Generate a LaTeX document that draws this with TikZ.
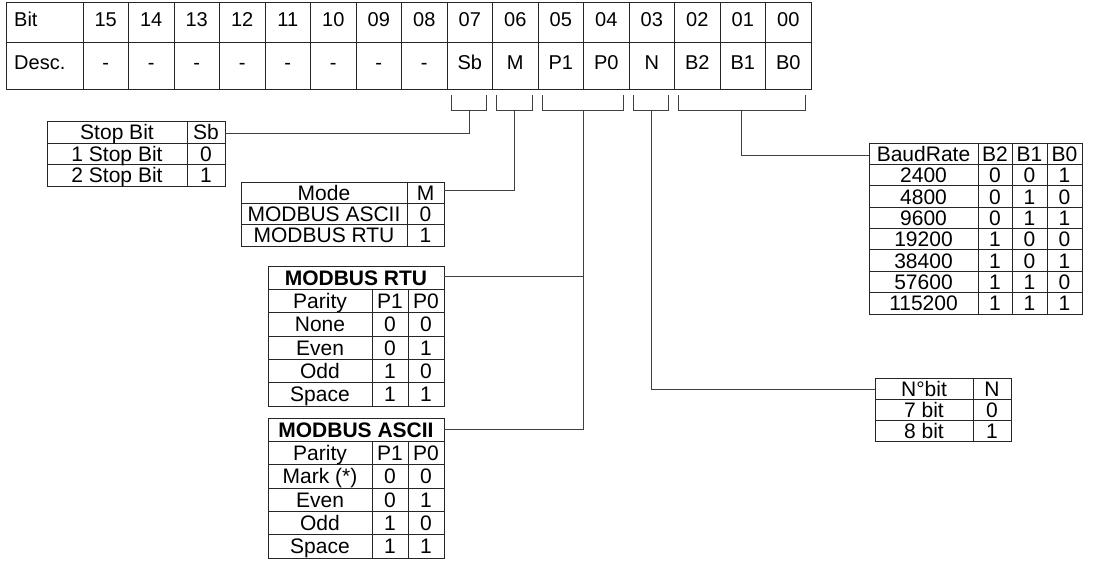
\documentclass[tikz,border=0pt]{standalone}
\usepackage{fontspec}
\setmainfont{Liberation Sans}
\usetikzlibrary{positioning,calc}
\tikzset{
  cell/.style={inner sep=0pt,text height=14pt,text depth=0pt,font=\fontsize{20}{20}\selectfont},
  tcell/.style={inner sep=0pt,text height=15pt,text depth=0pt,font=\fontsize{21}{21}\selectfont},
  boldcell/.style={tcell,font=\fontsize{21}{21}\selectfont\bfseries},
  rule/.style={draw=black!85,line width=1pt},
  wire/.style={draw=black!75,line width=1pt},
}
\begin{document}
\begin{tikzpicture}[x=1pt,y=-1pt]
\useasboundingbox (0,0) rectangle (1093,562);
% register
\draw[rule] (6,2) rectangle (811,89);
\draw[rule] (6,42) -- (811,42);
\draw[rule] (83,2) -- (83,89);
\draw[rule] (128.5,2) -- (128.5,89);
\draw[rule] (174,2) -- (174,89);
\draw[rule] (219.5,2) -- (219.5,89);
\draw[rule] (265,2) -- (265,89);
\draw[rule] (310.5,2) -- (310.5,89);
\draw[rule] (356,2) -- (356,89);
\draw[rule] (401.5,2) -- (401.5,89);
\draw[rule] (447,2) -- (447,89);
\draw[rule] (492.5,2) -- (492.5,89);
\draw[rule] (538,2) -- (538,89);
\draw[rule] (583.5,2) -- (583.5,89);
\draw[rule] (629,2) -- (629,89);
\draw[rule] (674.5,2) -- (674.5,89);
\draw[rule] (720,2) -- (720,89);
\draw[rule] (765.5,2) -- (765.5,89);
\node[cell,anchor=west] (bit) at (14,20) {Bit};
\node[cell,anchor=west] (desc) at (14,62) {Desc.};
\node[cell] (b15) at (105.75,20) {15};
\node[cell] (b14) at (151.25,20) {14};
\node[cell] (b13) at (196.75,20) {13};
\node[cell] (b12) at (242.25,20) {12};
\node[cell] (b11) at (287.75,20) {11};
\node[cell] (b10) at (333.25,20) {10};
\node[cell] (b09) at (378.75,20) {09};
\node[cell] (b08) at (424.25,20) {08};
\node[cell] (b07) at (469.75,20) {07};
\node[cell] (b06) at (515.25,20) {06};
\node[cell] (b05) at (560.75,20) {05};
\node[cell] (b04) at (606.25,20) {04};
\node[cell] (b03) at (651.75,20) {03};
\node[cell] (b02) at (697.25,20) {02};
\node[cell] (b01) at (742.75,20) {01};
\node[cell] (b00) at (788.25,20) {00};
\node[cell] (d15) at (105.75,62) {-};
\node[cell] (d14) at (151.25,62) {-};
\node[cell] (d13) at (196.75,62) {-};
\node[cell] (d12) at (242.25,62) {-};
\node[cell] (d11) at (287.75,62) {-};
\node[cell] (d10) at (333.25,62) {-};
\node[cell] (d09) at (378.75,62) {-};
\node[cell] (d08) at (424.25,62) {-};
\node[cell] (dsb) at (469.75,62) {Sb};
\node[cell] (dm) at (515.25,62) {M};
\node[cell] (dp1) at (560.75,62) {P1};
\node[cell] (dp0) at (606.25,62) {P0};
\node[cell] (dn) at (651.75,62) {N};
\node[cell] (db2) at (697.25,62) {B2};
\node[cell] (db1) at (742.75,62) {B1};
\node[cell] (db0) at (788.25,62) {B0};
% brackets under the fields
\draw[wire] (451,95) -- (451,110) -- (486.5,110) -- (486.5,95);
\draw[wire] (496.5,95) -- (496.5,110) -- (532,110) -- (532,95);
\draw[wire] (542,95) -- (542,110) -- (623,110) -- (623,95);
\draw[wire] (633,95) -- (633,110) -- (668.5,110) -- (668.5,95);
\draw[wire] (678.5,95) -- (678.5,110) -- (805,110) -- (805,95);
\coordinate (sbtap) at (469,110);
\coordinate (mtap) at (514,110);
\coordinate (ptap) at (583,110);
\coordinate (ntap) at (651,110);
\coordinate (btap) at (741.5,110);
% stop bit
\draw[rule] (47,121) rectangle (225,186);
\draw[rule] (47,143) -- (225,143);
\draw[rule] (47,164) -- (225,164);
\draw[rule] (187,121) -- (187,186);
\node[tcell] (sbhead) at (117,132) {Stop Bit};
\node[tcell] (sbkey) at (206,132) {Sb};
\node[tcell] (sbone) at (117,153.5) {1 Stop Bit};
\node[tcell] (sbzero) at (206,153.5) {0};
\node[tcell] (sbtwo) at (117,175) {2 Stop Bit};
\node[tcell] (sbset) at (206,175) {1};
\coordinate (sbport) at (225,133);
% mode
\draw[rule] (241,182) rectangle (444,246);
\draw[rule] (241,203) -- (444,203);
\draw[rule] (241,224) -- (444,224);
\draw[rule] (407,182) -- (407,246);
\node[tcell] (mhead) at (324,192.5) {Mode};
\node[tcell] (mkey) at (425.5,192.5) {M};
\node[tcell] (mascii) at (324,213.5) {MODBUS ASCII};
\node[tcell] (mzero) at (425.5,213.5) {0};
\node[tcell] (mrtu) at (324,235) {MODBUS RTU};
\node[tcell] (mone) at (425.5,235) {1};
\coordinate (mport) at (444,190);
% parity, rtu
\draw[rule] (268,266) rectangle (444,406);
\draw[rule] (268,289.3) -- (444,289.3);
\draw[rule] (268,312.7) -- (444,312.7);
\draw[rule] (268,336) -- (444,336);
\draw[rule] (268,359.3) -- (444,359.3);
\draw[rule] (268,382.7) -- (444,382.7);
\draw[rule] (372,289.3) -- (372,406);
\draw[rule] (408,289.3) -- (408,406);
\node[boldcell] (rtuhead) at (356,277.7) {MODBUS RTU};
\node[tcell] (rtupar) at (320,301) {Parity};
\node[tcell] (rtup1) at (390,301) {P1};
\node[tcell] (rtup0) at (426,301) {P0};
\node[tcell] (rtunone) at (320,324.3) {None};
\node[tcell] at (390,324.3) {0};
\node[tcell] at (426,324.3) {0};
\node[tcell] (rtueven) at (320,347.7) {Even};
\node[tcell] at (390,347.7) {0};
\node[tcell] at (426,347.7) {1};
\node[tcell] (rtuodd) at (320,371) {Odd};
\node[tcell] at (390,371) {1};
\node[tcell] at (426,371) {0};
\node[tcell] (rtuspace) at (320,394.3) {Space};
\node[tcell] at (390,394.3) {1};
\node[tcell] at (426,394.3) {1};
\coordinate (rtuport) at (444,276);
% parity, ascii
\draw[rule] (268,418) rectangle (444,558);
\draw[rule] (268,441.3) -- (444,441.3);
\draw[rule] (268,464.7) -- (444,464.7);
\draw[rule] (268,488) -- (444,488);
\draw[rule] (268,511.3) -- (444,511.3);
\draw[rule] (268,534.7) -- (444,534.7);
\draw[rule] (372,441.3) -- (372,558);
\draw[rule] (408,441.3) -- (408,558);
\node[boldcell] (aschead) at (356,429.7) {MODBUS ASCII};
\node[tcell] (ascpar) at (320,453) {Parity};
\node[tcell] (ascp1) at (390,453) {P1};
\node[tcell] (ascp0) at (426,453) {P0};
\node[tcell] (ascmark) at (320,476.3) {Mark (*)};
\node[tcell] at (390,476.3) {0};
\node[tcell] at (426,476.3) {0};
\node[tcell] (asceven) at (320,499.7) {Even};
\node[tcell] at (390,499.7) {0};
\node[tcell] at (426,499.7) {1};
\node[tcell] (ascodd) at (320,523) {Odd};
\node[tcell] at (390,523) {1};
\node[tcell] at (426,523) {0};
\node[tcell] (ascspace) at (320,546.3) {Space};
\node[tcell] at (390,546.3) {1};
\node[tcell] at (426,546.3) {1};
\coordinate (ascport) at (444,429);
% data bits
\draw[rule] (875,378) rectangle (1011,441);
\draw[rule] (875,399) -- (1011,399);
\draw[rule] (875,420) -- (1011,420);
\draw[rule] (973,378) -- (973,441);
\node[tcell] (nhead) at (924,388.5) {N°bit};
\node[tcell] (nkey) at (992,388.5) {N};
\node[tcell] (nseven) at (924,409.5) {7 bit};
\node[tcell] at (992,409.5) {0};
\node[tcell] (neight) at (924,430.5) {8 bit};
\node[tcell] at (992,430.5) {1};
\coordinate (nport) at (875,389);
% baud rate
\draw[rule] (869,143) rectangle (1082,314);
\draw[rule] (869,164.4) -- (1082,164.4);
\draw[rule] (869,185.8) -- (1082,185.8);
\draw[rule] (869,207.1) -- (1082,207.1);
\draw[rule] (869,228.5) -- (1082,228.5);
\draw[rule] (869,249.9) -- (1082,249.9);
\draw[rule] (869,271.3) -- (1082,271.3);
\draw[rule] (869,292.6) -- (1082,292.6);
\draw[rule] (978,143) -- (978,314);
\draw[rule] (1012,143) -- (1012,314);
\draw[rule] (1047,143) -- (1047,314);
\node[tcell] (brhead) at (923.5,153.7) {BaudRate};
\node[tcell] at (995,153.7) {B2};
\node[tcell] at (1029.5,153.7) {B1};
\node[tcell] at (1064.5,153.7) {B0};
\node[tcell] (br2400) at (923.5,175.1) {2400};
\node[tcell] at (995,175.1) {0};
\node[tcell] at (1029.5,175.1) {0};
\node[tcell] at (1064.5,175.1) {1};
\node[tcell] (br4800) at (923.5,196.5) {4800};
\node[tcell] at (995,196.5) {0};
\node[tcell] at (1029.5,196.5) {1};
\node[tcell] at (1064.5,196.5) {0};
\node[tcell] (br9600) at (923.5,217.8) {9600};
\node[tcell] at (995,217.8) {0};
\node[tcell] at (1029.5,217.8) {1};
\node[tcell] at (1064.5,217.8) {1};
\node[tcell] (br19200) at (923.5,239.2) {19200};
\node[tcell] at (995,239.2) {1};
\node[tcell] at (1029.5,239.2) {0};
\node[tcell] at (1064.5,239.2) {0};
\node[tcell] (br38400) at (923.5,260.6) {38400};
\node[tcell] at (995,260.6) {1};
\node[tcell] at (1029.5,260.6) {0};
\node[tcell] at (1064.5,260.6) {1};
\node[tcell] (br57600) at (923.5,282) {57600};
\node[tcell] at (995,282) {1};
\node[tcell] at (1029.5,282) {1};
\node[tcell] at (1064.5,282) {0};
\node[tcell] (br115200) at (923.5,303.3) {115200};
\node[tcell] at (995,303.3) {1};
\node[tcell] at (1029.5,303.3) {1};
\node[tcell] at (1064.5,303.3) {1};
\coordinate (bport) at (869,155);
% connectors
\draw[wire] (sbtap) |- (sbport);
\draw[wire] (mtap) |- (mport);
\draw[wire] (ptap) |- (ascport);
\draw[wire] (rtuport) -- (rtuport -| ptap);
\draw[wire] (ntap) |- (nport);
\draw[wire] (btap) |- (bport);
\end{tikzpicture}
\end{document}
